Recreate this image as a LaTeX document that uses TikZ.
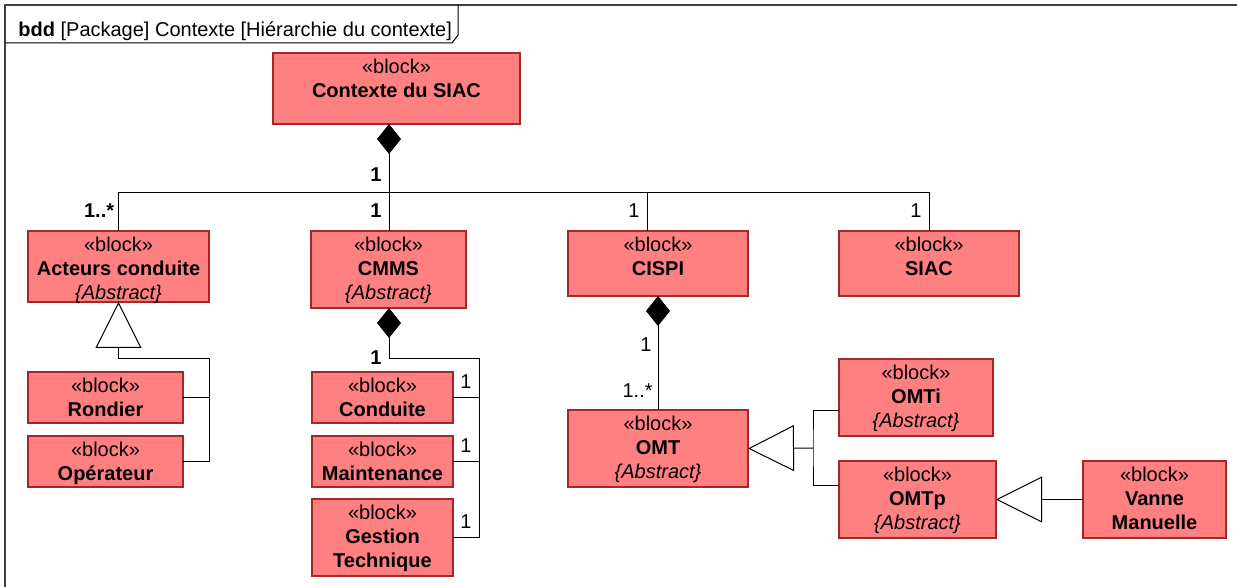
\documentclass[tikz,border=0pt]{standalone}
\usepackage{fontspec}
\setmainfont{Liberation Sans}
\usetikzlibrary{arrows.meta, positioning}

\definecolor{blockfill}{RGB}{255,128,128}
\definecolor{blockline}{RGB}{165,40,40}

\begin{document}
\begin{tikzpicture}[
        x=0.5pt, y=-0.5pt,
        font=\fontsize{10}{12}\selectfont,
        blockbox/.style={draw=blockline, fill=blockfill, line width=0.6pt, anchor=north west, inner sep=0pt, outer sep=0pt},
        blocktext/.style={anchor=north, align=center, inner sep=0pt, yshift=-2.7pt},
        mult/.style={inner sep=0pt, anchor=base east},
        link/.style={draw=black, line width=0.5pt},
        compo/.style={link, {Diamond[length=15pt, width=12pt, fill=black]}-},
        gener/.style={link, {Triangle[open, length=23pt, width=23pt, fill=white]}-},
        frame/.style={draw=black!75, line width=0.8pt}
    ]
    \useasboundingbox (0,0) rectangle (1237,587);

    % CADRE
    \draw[frame] (5,587) -- (5,5) -- (1237,5);
    \draw[link] (5,43) -- (452,43) -- (458,35) -- (458,5);
    \node[anchor=base west, inner sep=0pt] (titre) at (18,37) {\textbf{bdd} [Package] Contexte [Hiérarchie du contexte]};

    % BLOCS
    \node[blockbox, minimum width=123.5pt, minimum height=35.5pt, label={[blocktext]north:{«block»\\\textbf{Contexte du SIAC}}}] (ctx) at (273,53) {};

    \node[blockbox, minimum width=90.5pt, minimum height=35.5pt, label={[blocktext]north:{«block»\\\textbf{Acteurs conduite}\\\textit{\{Abstract\}}}}] (act) at (28,231) {};
    \node[blockbox, minimum width=77.5pt, minimum height=38.5pt, label={[blocktext]north:{«block»\\\textbf{CMMS}\\\textit{\{Abstract\}}}}] (cmms) at (311,231) {};
    \node[blockbox, minimum width=90pt, minimum height=32.5pt, label={[blocktext]north:{«block»\\\textbf{CISPI}}}] (cispi) at (568,231) {};
    \node[blockbox, minimum width=90pt, minimum height=32.5pt, label={[blocktext]north:{«block»\\\textbf{SIAC}}}] (siac) at (839,231) {};

    \node[blockbox, minimum width=77.5pt, minimum height=25.5pt, label={[blocktext]north:{«block»\\\textbf{Rondier}}}] (rond) at (28,372) {};
    \node[blockbox, minimum width=77.5pt, minimum height=25.5pt, label={[blocktext]north:{«block»\\\textbf{Opérateur}}}] (oper) at (28,436) {};

    \node[blockbox, minimum width=70.5pt, minimum height=25.5pt, label={[blocktext]north:{«block»\\\textbf{Conduite}}}] (cond) at (312,372) {};
    \node[blockbox, minimum width=70.5pt, minimum height=25.5pt, label={[blocktext]north:{«block»\\\textbf{Maintenance}}}] (maint) at (312,436) {};
    \node[blockbox, minimum width=70.5pt, minimum height=38.5pt, label={[blocktext]north:{«block»\\\textbf{Gestion}\\\textbf{Technique}}}] (gest) at (312,499) {};

    \node[blockbox, minimum width=90pt, minimum height=38.5pt, label={[blocktext]north:{«block»\\\textbf{OMT}\\\textit{\{Abstract\}}}}] (omt) at (568,410) {};
    \node[blockbox, minimum width=77pt, minimum height=38.5pt, label={[blocktext]north:{«block»\\\textbf{OMTi}\\\textit{\{Abstract\}}}}] (omti) at (839,359) {};
    \node[blockbox, minimum width=78.5pt, minimum height=38.5pt, label={[blocktext]north:{«block»\\\textbf{OMTp}\\\textit{\{Abstract\}}}}] (omtp) at (839,461) {};
    \node[blockbox, minimum width=71.5pt, minimum height=38.5pt, label={[blocktext]north:{«block»\\\textbf{Vanne}\\\textbf{Manuelle}}}] (vanne) at (1083,461) {};

    % CONTEXTE
    \coordinate (bus) at (389,193);
    \draw[compo] (ctx.south -| bus) -- (bus);
    \draw[link] (bus) -| (act.north);
    \draw[link] (bus) -- (cmms.north -| bus);
    \draw[link] (bus) -| ([xshift=-5.5pt]cispi.north);
    \draw[link] (bus) -| (siac.north);
    \node[mult] (m-ctx) at ([xshift=-3.5pt, yshift=5.5pt]bus) {\textbf{1}};
    \node[mult] (m-act) at ([xshift=-2pt, yshift=6.5pt]act.north) {\textbf{1..*}};
    \node[mult] (m-cmms) at ([xshift=-3.5pt, yshift=6.5pt]cmms.north -| bus) {\textbf{1}};
    \node[mult] (m-cispi) at ([xshift=-9pt, yshift=6.5pt]cispi.north) {1};
    \node[mult] (m-siac) at ([xshift=-3.5pt, yshift=6.5pt]siac.north) {1};

    % ACTEURS
    \coordinate (abus) at (209,359);
    \draw[gener] (act.south) |- (abus) |- (oper.east);
    \draw[link] (rond.east) -- (rond.east -| abus);

    % CMMS
    \coordinate (cbus) at (479,359);
    \draw[compo] (cmms.south -| bus) |- (cbus) |- (gest.east);
    \draw[link] (cond.east) -- (cond.east -| cbus);
    \draw[link] (maint.east) -- (maint.east -| cbus);
    \node[mult] (m-cmms2) at (382,365) {\textbf{1}};
    \foreach \n in {cond, maint, gest}
        \node[mult, anchor=base] (m-\n) at ([xshift=6.5pt, yshift=4.5pt]\n.east) {1};

    % CISPI / OMT
    \draw[compo] (cispi.south) -- (omt.north);
    \node[mult] (m-cispi2) at ([xshift=-3pt, yshift=-28pt]cispi.south) {1};
    \node[mult] (m-omt) at ([xshift=-2.5pt, yshift=6pt]omt.north) {1..*};

    \coordinate (obus) at (813,448);
    \draw[gener] (omt.east) -- (obus);
    \draw[link] ([yshift=-6.75pt]omti.west) -| (obus) |- ([yshift=6.75pt]omtp.west);
    \draw[gener] (omtp.east) -- (vanne.west);
\end{tikzpicture}
\end{document}
